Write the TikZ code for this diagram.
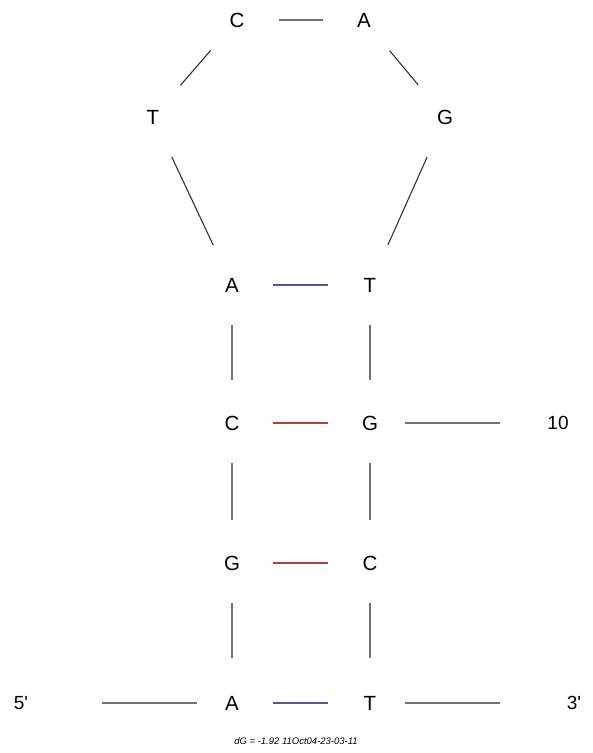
\documentclass[tikz,border=0pt]{standalone}
\usepackage{fontspec}
\setmainfont{Liberation Sans}[Ligatures=TeXOff]
\begin{document}
\begin{tikzpicture}[x=1pt,y=-1pt,
  base/.style={font=\fontsize{20.5}{24}\selectfont, inner sep=0pt},
  bond/.style={line width=1.1pt, draw=black!55},
  loopbond/.style={line width=1.1pt, draw=black!80},
  weak/.style={line width=1.2pt, draw={rgb,255:red,88;green,88;blue,150}},
  strong/.style={line width=1.2pt, draw={rgb,255:red,185;green,60;blue,60}},
  lbl/.style={font=\fontsize{19}{22}\selectfont, inner sep=0pt}]
\fill[white] (0,0) rectangle (593,753);
\useasboundingbox (0,0) rectangle (593,753);
% loop
\node[base] (c1) at (237,20) {C};
\node[base] (a1) at (364,20) {A};
\node[base] (t1) at (153,117) {T};
\node[base] (g1) at (445,117) {G};
% stem
\node[base] (a2) at (232,285) {A};
\node[base] (t2) at (370,285) {T};
\node[base] (c3) at (232,423) {C};
\node[base] (g3) at (370,423) {G};
\node[base] (g4) at (232,563) {G};
\node[base] (c4) at (370,563) {C};
\node[base] (a5) at (232,703) {A};
\node[base] (t5) at (370,703) {T};
% labels
\node[lbl] (p5) at (21,703) {5'};
\node[lbl] (p3) at (574,703) {3'};
\node[lbl] (n10) at (558,423) {10};
\node[font=\itshape\fontsize{9.5}{11}\selectfont, inner sep=0pt] (dg) at (296,741) {dG = -1.92 11Oct04-23-03-11};
% loop backbone
\draw[bond, shorten <=42pt, shorten >=41pt] (c1.center) -- (a1.center);
\draw[loopbond, shorten <=40pt, shorten >=42pt] (c1.center) -- (t1.center);
\draw[loopbond, shorten <=40pt, shorten >=42pt] (a1.center) -- (g1.center);
\draw[loopbond, shorten <=44pt, shorten >=44pt] (t1.center) -- (a2.center);
\draw[loopbond, shorten <=44pt, shorten >=44pt] (g1.center) -- (t2.center);
% stem backbone
\draw[bond, shorten <=40pt, shorten >=43pt] (a2.center) -- (c3.center);
\draw[bond, shorten <=40pt, shorten >=43pt] (c3.center) -- (g4.center);
\draw[bond, shorten <=40pt, shorten >=45pt] (g4.center) -- (a5.center);
\draw[bond, shorten <=40pt, shorten >=43pt] (t2.center) -- (g3.center);
\draw[bond, shorten <=40pt, shorten >=43pt] (g3.center) -- (c4.center);
\draw[bond, shorten <=40pt, shorten >=45pt] (c4.center) -- (t5.center);
% pairs
\draw[weak, shorten <=41pt, shorten >=42pt] (a2.center) -- (t2.center);
\draw[strong, shorten <=41pt, shorten >=42pt] (c3.center) -- (g3.center);
\draw[strong, shorten <=41pt, shorten >=42pt] (g4.center) -- (c4.center);
\draw[weak, shorten <=41pt, shorten >=42pt] (a5.center) -- (t5.center);
% tails
\draw[bond, shorten <=81pt, shorten >=35pt] (p5.center) -- (a5.center);
\draw[bond, shorten <=35pt, shorten >=74pt] (t5.center) -- (p3.center);
\draw[bond, shorten <=35pt, shorten >=58pt] (g3.center) -- (n10.center);
\end{tikzpicture}
\end{document}
